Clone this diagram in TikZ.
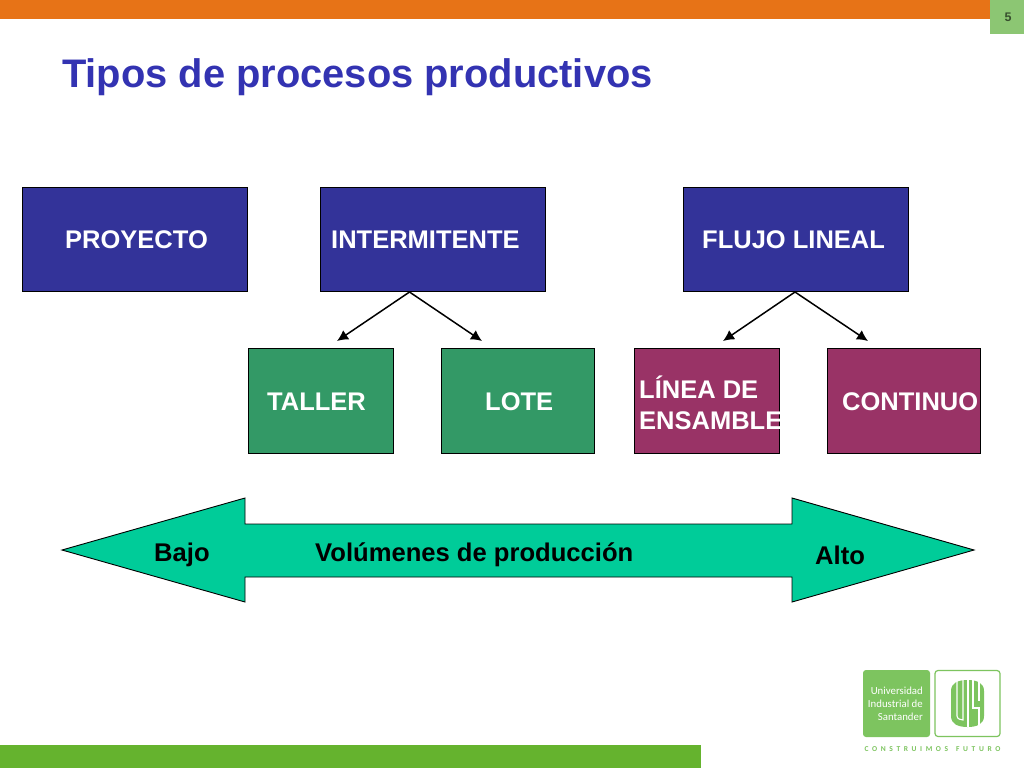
\documentclass[tikz,border=0pt]{standalone}
\usepackage{fontspec}
\setmainfont{Liberation Sans}
\newfontfamily\logofont{Carlito}
\usetikzlibrary{arrows.meta}
\definecolor{navy}{HTML}{333399}
\definecolor{titleblue}{HTML}{3333B2}
\definecolor{orangebar}{HTML}{E77317}
\definecolor{greenbar}{HTML}{65B32E}
\definecolor{pagegreen}{HTML}{8CC673}
\definecolor{boxgreen}{HTML}{339966}
\definecolor{boxwine}{HTML}{993366}
\definecolor{arrowgreen}{HTML}{00CC99}
\definecolor{logogreen}{HTML}{7DC45F}
\tikzset{
  box/.style={draw=black,line width=0.9pt,minimum width=#1,inner sep=0pt,anchor=north west},
  topbox/.style={box=225pt,fill=navy,minimum height=104.5pt},
  greenbox/.style={box=#1,fill=boxgreen,minimum height=104.5pt},
  winebox/.style={box=#1,fill=boxwine,minimum height=104.5pt},
  lab/.style={font=\bfseries\fontsize{25.5}{31}\selectfont,text=white,inner sep=0pt},
  dark/.style={font=\bfseries\fontsize{25.6}{30}\selectfont,text=black,inner sep=0pt},
  link/.style={draw=black,line width=1.5pt,-{Latex[length=11pt,width=11pt]}},
  logotext/.style={font=\logofont\fontsize{10.8}{13.2}\selectfont,text=white,inner sep=0pt,align=right,anchor=north east}
}
\begin{document}
\begin{tikzpicture}[x=1pt,y=-1pt]
\useasboundingbox (0,0) rectangle (1024,768);
\fill[white] (0,0) rectangle (1024,768);
% bars
\fill[orangebar] (0,0) rectangle (990,19);
\fill[pagegreen] (990,0) rectangle (1024,34);
\node[font=\bfseries\fontsize{12.5}{15}\selectfont,text=black!60!pagegreen,inner sep=0pt] (pg) at (1008,17) {5};
\fill[greenbar] (0,745) rectangle (701,768);
% title
\node[anchor=west,inner sep=0pt,text=titleblue,font=\bfseries\fontsize{39.85}{48}\selectfont] (title) at (62,77) {Tipos de procesos productivos};
% boxes
\node[topbox] (proy) at (22,186.5) {};
\node[topbox] (inter) at (320,186.5) {};
\node[topbox] (flujo) at (683,186.5) {};
\node[greenbox=144.5pt] (taller) at (248,348) {};
\node[greenbox=152.5pt] (lote) at (441,348) {};
\node[winebox=144.5pt] (linea) at (634,348) {};
\node[winebox=152.5pt] (cont) at (827,348) {};
% labels
\node[lab,anchor=base west] (tproy) at (65,248.5) {PROYECTO};
\node[lab,anchor=base west] (tinter) at (331,248.5) {INTERMITENTE};
\node[lab,anchor=base west] (tflujo) at (702,248.5) {FLUJO LINEAL};
\node[lab,anchor=base west] (ttaller) at (267,410.5) {TALLER};
\node[lab,anchor=base west] (tlote) at (485,410.5) {LOTE};
\node[lab,anchor=west,align=left] (tlinea) at (639,403) {LÍNEA DE\\ENSAMBLE};
\node[lab,anchor=base west] (tcont) at (842,410.5) {CONTINUO};
% connectors
\coordinate (a1s) at (409.5,292);
\coordinate (a2s) at (795,292);
\coordinate (t1) at (337,341);
\coordinate (t2) at (482,341);
\coordinate (t3) at (723,341);
\coordinate (t4) at (868,341);
\draw[link] (a1s) -- (t1);
\draw[link] (a1s) -- (t2);
\draw[link] (a2s) -- (t3);
\draw[link] (a2s) -- (t4);
% double arrow
\draw[draw=black,line width=0.9pt,fill=arrowgreen,line join=miter]
 (62,550) -- (245,498) -- (245,524) -- (792,524) -- (792,498) -- (974,550) -- (792,602) -- (792,577) -- (245,577) -- (245,602) -- cycle;
\node[dark,anchor=base west] (bajo) at (154,561) {Bajo};
\node[dark,anchor=base west] (vol) at (315,561) {Volúmenes de producción};
\node[dark,anchor=base west] (alto) at (815,564.5) {Alto};
% logo
\fill[logogreen,rounded corners=3pt] (863,670) rectangle (930,737);
\node[logotext] (logo1) at (923,686.5) {Universidad\\Industrial de\\Santander};
\draw[logogreen,line width=1.2pt,rounded corners=3pt] (935,670.5) rectangle (1000,736.5);
\fill[logogreen] (951,691) .. controls (951,683) and (958,680) .. (967.5,680) .. controls (977,680) and (984,683) .. (984,691) -- (984,716) .. controls (984,724) and (977,727) .. (967.5,727) .. controls (958,727) and (951,724) .. (951,716) -- cycle;
\draw[white,line width=1.1pt] (957,681) -- (957,716) .. controls (957,719) and (961,720) .. (963,720) -- (963,680);
\draw[white,line width=1.1pt] (968,680) -- (968,727);
\draw[white,line width=1.1pt] (973,680) -- (973,708) -- (979,708) -- (979,726);
\draw[white,line width=1.1pt] (979,681) -- (979,701);
\node[inner sep=0pt,text=logogreen,font=\logofont\bfseries\fontsize{7.5}{9}\selectfont] (lema) at (932.5,749) {C\kern3.6pt O\kern3.6pt N\kern3.6pt S\kern3.6pt T\kern3.6pt R\kern3.6pt U\kern3.6pt I\kern3.6pt M\kern3.6pt O\kern3.6pt S\kern8pt F\kern3.6pt U\kern3.6pt T\kern3.6pt U\kern3.6pt R\kern3.6pt O};
\end{tikzpicture}
\end{document}
